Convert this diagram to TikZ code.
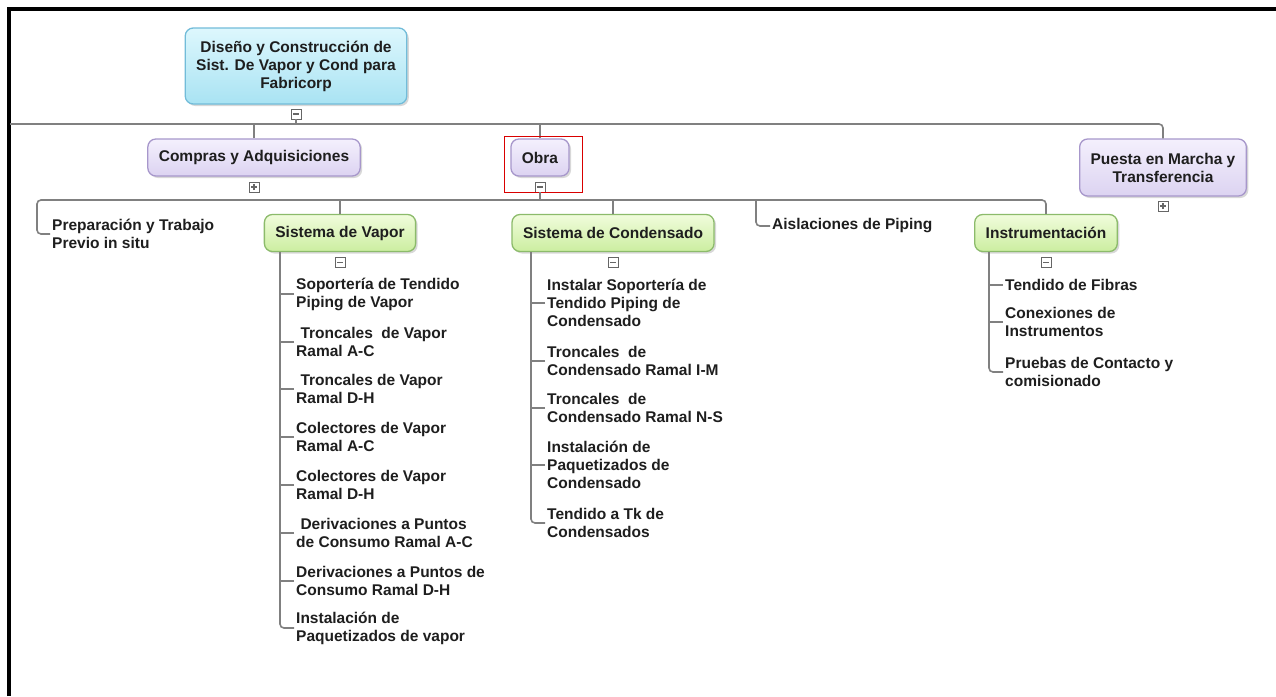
\documentclass[tikz,border=0pt]{standalone}
\usepackage{fontspec}
\setmainfont{Liberation Sans}
\usetikzlibrary{positioning, shadows}

\definecolor{linkgray}{HTML}{808080}
\definecolor{inkc}{HTML}{1E1E1E}
\definecolor{rootTop}{HTML}{DDF7FD}
\definecolor{rootBot}{HTML}{A9E3F3}
\definecolor{rootLine}{HTML}{72BCD9}
\definecolor{lilaTop}{HTML}{F4F0FD}
\definecolor{lilaBot}{HTML}{DCD3F1}
\definecolor{lilaLine}{HTML}{A797CB}
\definecolor{greenTop}{HTML}{F0FCDC}
\definecolor{greenBot}{HTML}{CCEEA0}
\definecolor{greenLine}{HTML}{8CBB6B}

\begin{document}
\begin{tikzpicture}
  [x=1pt, y=-1pt,
   font=\bfseries\fontsize{15.5}{18}\selectfont, text=inkc,
   box/.style={rectangle, rounded corners=8pt, line width=1.3pt,
               inner xsep=11pt, minimum height=37pt, align=center,
               drop shadow={opacity=0.3, shadow xshift=2pt, shadow yshift=-2pt}},
   rootbox/.style={box, draw=rootLine, top color=rootTop, bottom color=rootBot,
                   minimum width=219pt, minimum height=76pt},
   phasebox/.style={box, draw=lilaLine, top color=lilaTop, bottom color=lilaBot},
   workbox/.style={box, draw=greenLine, top color=greenTop, bottom color=greenBot},
   leaf/.style={anchor=west, align=left, inner xsep=2pt, inner ysep=0pt},
   link/.style={draw=linkgray, line width=1.6pt, rounded corners=4pt},
   togglebox/.style={rectangle, draw=gray!80!black, fill=white, line width=0.8pt,
                     minimum size=10pt, inner sep=0pt},
   minusbox/.style={togglebox, path picture={
       \draw[line width=1.3pt] ([xshift=2pt]path picture bounding box.west)
         -- ([xshift=-2pt]path picture bounding box.east);}},
   plusbox/.style={togglebox, path picture={
       \draw[line width=1.3pt] ([xshift=2pt]path picture bounding box.west)
         -- ([xshift=-2pt]path picture bounding box.east);
       \draw[line width=1.3pt] ([yshift=2pt]path picture bounding box.south)
         -- ([yshift=-2pt]path picture bounding box.north);}}]
  \useasboundingbox (0,0) rectangle (1276,696);
  \fill[white] (0,0) rectangle (1276,696);
  \draw[line width=4pt] (9,696) -- (9,9) -- (1276,9);

  % top of the tree
  \node[rootbox]  (root)    at (296,66)    {Diseño y Construcción de\\Sist. De Vapor y Cond para\\Fabricorp};
  \node[minusbox] (rootm)   [below=4pt of root]    {};
  \coordinate     (bar)     at (10,124);

  % phases
  \node[phasebox] (compras) at (254,157.5) {Compras y Adquisiciones};
  \node[plusbox]  (comprasm)[below=5pt of compras] {};
  \node[phasebox] (obra)    at (540,157.5) {Obra};
  \node[minusbox] (obram)   [below=5pt of obra]    {};
  \node[phasebox, minimum height=57pt]
                  (puesta)  at (1163,167.5) {Puesta en Marcha y\\Transferencia};
  \node[plusbox]  (puestam) [below=4pt of puesta]  {};

  \draw[link] (rootm.south) -- (rootm.south |- bar);
  \draw[link] (bar) -| (puesta.north);
  \draw[link] (compras.north) -- (compras.north |- bar);
  \draw[link] (obra.north) -- (obra.north |- bar);
  \draw[red!85!black, line width=1.3pt]
    ([shift={(-6,-2)}]obra.north west) rectangle ([xshift=13pt]obra.east |- obram.south);

  % work packages of Obra
  \coordinate     (bar2)    at (37,200);
  \node[leaf]     (prep)    at (50,234)    {Preparación y Trabajo\\Previo in situ};
  \node[workbox]  (sv)      at (340,233)   {Sistema de Vapor};
  \node[minusbox] (svm)     [below=5pt of sv]      {};
  \node[workbox]  (sc)      at (613,233)   {Sistema de Condensado};
  \node[minusbox] (scm)     [below=5pt of sc]      {};
  \node[leaf]     (ais)     at (770,226)   {Aislaciones de Piping};
  \node[workbox]  (instr)   at (1046,233)  {Instrumentación};
  \node[minusbox] (instrm)  [below=5pt of instr]   {};

  \draw[link] (obram.south) -- (obram.south |- bar2);
  \draw[link] (prep.west) -| (bar2) -| (instr.north);
  \draw[link] (sv.north) -- (sv.north |- bar2);
  \draw[link] (sc.north) -- (sc.north |- bar2);
  \draw[link] (ais.west) -| ([xshift=-14pt]ais.west |- bar2);

  % Sistema de Vapor
  \node[leaf] (v1) at (294,294) {Soportería de Tendido\\Piping de Vapor};
  \node[leaf] (v2) at (294,342) {\ Troncales\ \ de Vapor\\Ramal A-C};
  \node[leaf] (v3) at (294,389) {\ Troncales de Vapor\\Ramal D-H};
  \node[leaf] (v4) at (294,437) {Colectores de Vapor\\Ramal A-C};
  \node[leaf] (v5) at (294,485) {Colectores de Vapor\\Ramal D-H};
  \node[leaf] (v6) at (294,533) {\ Derivaciones a Puntos\\de Consumo Ramal A-C};
  \node[leaf] (v7) at (294,581) {Derivaciones a Puntos de\\Consumo Ramal D-H};
  \node[leaf] (v8) at (294,628) {Instalación de\\Paquetizados de vapor};
  \draw[link] (v8.west) -| ([xshift=-14pt]v1.west |- sv.south);
  \draw[link] (v1.west) -- ++(-14,0) (v2.west) -- ++(-14,0) (v3.west) -- ++(-14,0)
              (v4.west) -- ++(-14,0) (v5.west) -- ++(-14,0) (v6.west) -- ++(-14,0)
              (v7.west) -- ++(-14,0);

  % Sistema de Condensado
  \node[leaf] (c1) at (545,303) {Instalar Soportería de\\Tendido Piping de\\Condensado};
  \node[leaf] (c2) at (545,361) {Troncales\ \ de\\Condensado Ramal I-M};
  \node[leaf] (c3) at (545,408) {Troncales\ \ de\\Condensado Ramal N-S};
  \node[leaf] (c4) at (545,465) {Instalación de\\Paquetizados de\\Condensado};
  \node[leaf] (c5) at (545,523) {Tendido a Tk de\\Condensados};
  \draw[link] (c5.west) -| ([xshift=-14pt]c1.west |- sc.south);
  \draw[link] (c1.west) -- ++(-14,0) (c2.west) -- ++(-14,0) (c3.west) -- ++(-14,0)
              (c4.west) -- ++(-14,0);

  % Instrumentacion
  \node[leaf] (i1) at (1003,285) {Tendido de Fibras};
  \node[leaf] (i2) at (1003,322) {Conexiones de\\Instrumentos};
  \node[leaf] (i3) at (1003,372) {Pruebas de Contacto y\\comisionado};
  \draw[link] (i3.west) -| ([xshift=-14pt]i1.west |- instr.south);
  \draw[link] (i1.west) -- ++(-14,0) (i2.west) -- ++(-14,0);
\end{tikzpicture}
\end{document}
